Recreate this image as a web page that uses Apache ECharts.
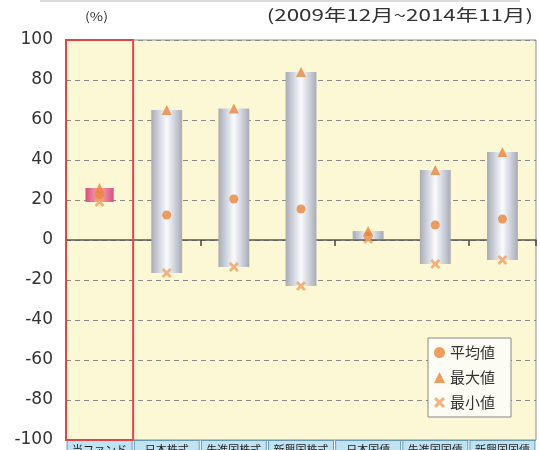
<!DOCTYPE html>
<html><head><meta charset="utf-8">
<script src="https://cdn.jsdelivr.net/npm/echarts@6/dist/echarts.min.js"></script>
<style>html,body{margin:0;padding:0;background:#fff}#c{width:540px;height:450px}</style>
</head><body><div id="c"></div>
<script>
const categories = ['当ファンド','日本株式','先進国株式','新興国株式','日本国債','先進国国債','新興国国債'];
const avgValues = [22.5, 12.5, 20.5, 15.5, 2, 7.5, 10.5];
const maxValues = [26, 65, 65.7, 84, 4.5, 35, 44];
const minValues = [19, -16.5, -13.5, -23, 0.5, -12, -10];
const yTicks = [-100, -80, -60, -40, -20, 0, 20, 40, 60, 80, 100];

const FONT = '"Noto Sans CJK JP", "Noto Sans", sans-serif';
const chart = echarts.init(document.getElementById('c'));
const rangeData = categories.map((c, i) => [i, minValues[i], maxValues[i]]);
const crossPath = 'path://M2,0L5,3L8,0L10,2L7,5L10,8L8,10L5,7L2,10L0,8L3,5L0,2Z';

chart.setOption({
  animation: false,
  textStyle: { fontFamily: FONT },
  grid: { left: 66, right: 4, top: 40, bottom: 10, outerBoundsMode: 'none', containLabel: false,
    show: true, backgroundColor: '#fcf8d6', borderColor: '#8c8c8c', borderWidth: 1 },
  graphic: [
    { type: 'line', shape: { x1: 40, y1: 1, x2: 520, y2: 1 }, style: { stroke: '#bbb', lineWidth: 1 } },
    { type: 'text', x: 85, y: 10, scaleX: 1.2, style: { text: '(%)', font: '12px ' + FONT, fill: '#333' } },
    { type: 'text', x: 533, y: 7, scaleX: 1.4, style: { text: '(2009年12月~2014年11月)', font: '16px ' + FONT, fill: '#333', align: 'right' } }
  ],
  legend: {
    orient: 'vertical', left: 428, top: 338, backgroundColor: '#fdfcf4', borderColor: '#888', borderWidth: 1,
    padding: [7, 16, 7, 6], itemGap: 10, itemWidth: 11, itemHeight: 11,
    textStyle: { fontSize: 15, color: '#333', fontFamily: FONT },
    data: ['平均値', '最大値', '最小値']
  },
  xAxis: [
    { type: 'category', data: categories, axisLine: { onZero: true, lineStyle: { color: '#555', width: 1.5 } },
      axisTick: { show: true, length: 6, lineStyle: { color: '#444', width: 1.5 } }, axisLabel: { show: false }, splitLine: { show: false } },
    { type: 'category', data: categories, position: 'bottom', axisLine: { show: false, onZero: false }, axisTick: { show: false },
      axisLabel: { show: true, interval: 0, margin: 1, fontSize: 11, color: '#222', backgroundColor: '#bfe3f2', borderColor: '#6a9ab0', borderWidth: 1,
        width: 60, align: 'center', padding: [3, 2, 3, 2], overflow: 'truncate', verticalAlign: 'top' } }
  ],
  yAxis: {
    type: 'value', min: -100, max: 100, interval: 20,
    axisLine: { show: false }, axisTick: { show: false },
    axisLabel: { fontSize: 17, color: '#333', margin: 13, fontFamily: '"DejaVu Sans", sans-serif',
      formatter: v => yTicks.includes(v) ? String(v) : '' },
    splitLine: { show: true, lineStyle: { color: '#8a8a8a', type: [5, 4], width: 1 } }
  },
  series: [
    { type: 'custom', name: 'frame', silent: true, z: 5, data: [[0]], xAxisIndex: 0,
      renderItem: (params, api) => {
        const w = api.size([1, 0])[0];
        const top = api.coord([0, 100]);
        const bot = api.coord([0, -100]);
        return { type: 'rect', shape: { x: top[0] - w / 2, y: top[1], width: w, height: bot[1] - top[1] },
          style: { fill: 'none', stroke: '#e0454a', lineWidth: 2 } };
      } },
    { type: 'custom', name: 'range', silent: true, z: 2, data: rangeData, encode: { x: 0, y: [1, 2] },
      renderItem: (params, api) => {
        const i = api.value(0);
        const p1 = api.coord([i, api.value(2)]);
        const p2 = api.coord([i, api.value(1)]);
        const bw = api.size([1, 0])[0] * (i === 0 ? 0.42 : 0.46);
        const fill = i === 0 ?
          new echarts.graphic.LinearGradient(0, 0, 1, 0, [
            { offset: 0, color: '#d9507a' }, { offset: 0.5, color: '#f7a9b8' }, { offset: 1, color: '#d9507a' }]) :
          new echarts.graphic.LinearGradient(0, 0, 1, 0, [
            { offset: 0, color: '#a9abb3' }, { offset: 0.2, color: '#c8ccd6' }, { offset: 0.5, color: '#fafbff' },
            { offset: 0.8, color: '#c8ccd6' }, { offset: 1, color: '#a9abb3' }]);
        return { type: 'rect', shape: { x: p1[0] - bw / 2, y: p1[1], width: bw, height: p2[1] - p1[1] }, style: { fill } };
      } },
    { type: 'scatter', name: '平均値', data: avgValues, symbol: 'circle', symbolSize: 9, z: 4,
      itemStyle: { color: '#e8843a' } },
    { type: 'scatter', name: '最大値', data: maxValues, symbol: 'triangle', symbolSize: 10, z: 4,
      itemStyle: { color: '#e8843a' } },
    { type: 'scatter', name: '最小値', data: minValues, symbol: crossPath, symbolSize: 10, z: 4,
      itemStyle: { color: '#f0a060' } }
  ]
});
</script></body></html>
